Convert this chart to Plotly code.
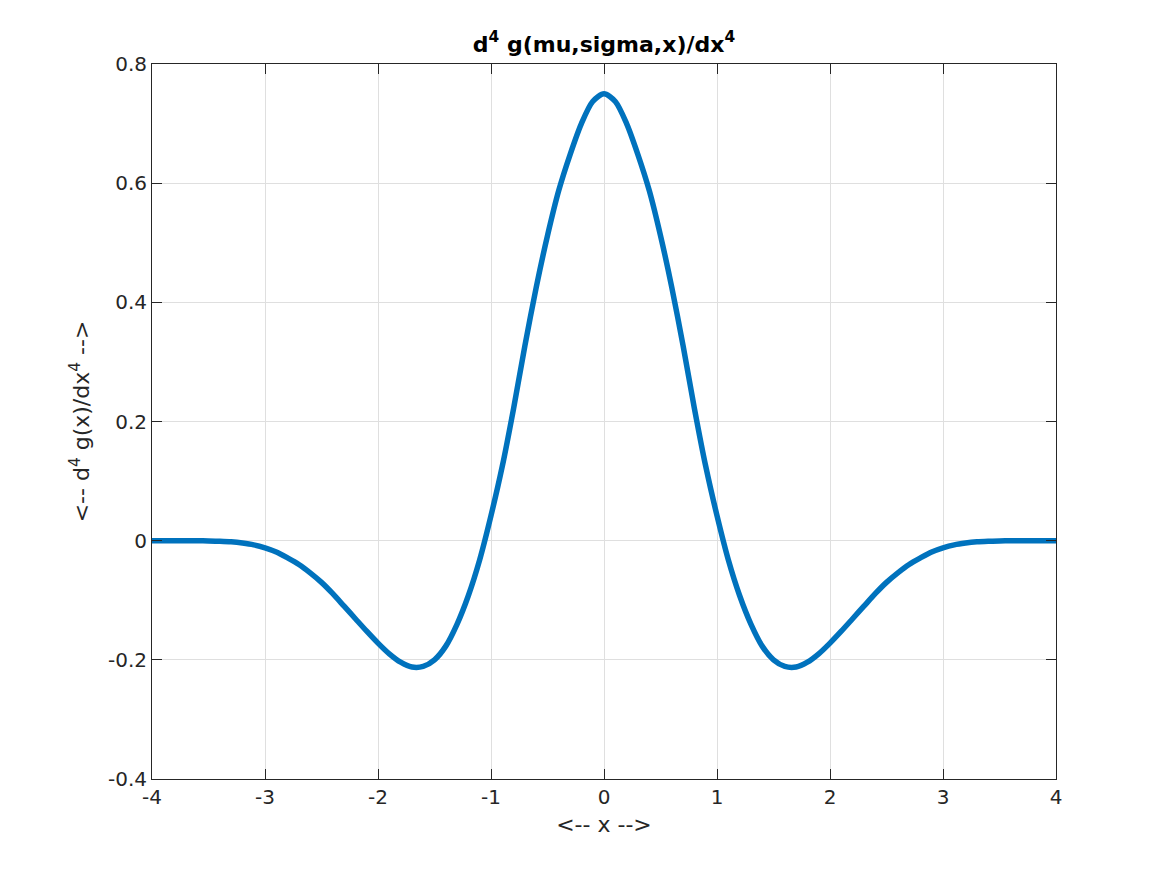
import plotly.graph_objects as go

# x positions (step 0.1) and values (symmetric curve)
x_right = [round(0.1 * i, 1) for i in range(41)]
y_right = [0.750, 0.737, 0.700, 0.648, 0.588, 0.512, 0.425, 0.327, 0.222, 0.125,
           0.042, -0.032, -0.092, -0.140, -0.177, -0.200, -0.211, -0.212, -0.204, -0.190,
           -0.172, -0.152, -0.131, -0.110, -0.089, -0.070, -0.054, -0.040, -0.029, -0.019,
           -0.012, -0.007, -0.004, -0.002, -0.001, -0.0004, 0.0, 0.0, 0.0, 0.0, 0.0]

x_vals = [-v for v in x_right[:0:-1]] + x_right
y_vals = y_right[:0:-1] + y_right

x_ticks = [-4, -3, -2, -1, 0, 1, 2, 3, 4]
x_ticklabels = ["-4", "-3", "-2", "-1", "0", "1", "2", "3", "4"]
y_ticks = [-0.4, -0.2, 0, 0.2, 0.4, 0.6, 0.8]
y_ticklabels = ["-0.4", "-0.2", "0", "0.2", "0.4", "0.6", "0.8"]

fig = go.Figure()
fig.add_trace(go.Scatter(x=x_vals, y=y_vals, mode="lines",
                         line=dict(color="#0072BD", width=5.5, shape="spline", smoothing=0.8),
                         showlegend=False))

tick_font = dict(family="DejaVu Sans", size=20, color="#262626")
label_font = dict(family="DejaVu Sans", size=22, color="#262626")
axis_common = dict(showline=True, linecolor="#262626", linewidth=1, mirror="ticks",
                   ticks="inside", ticklen=10, tickcolor="#262626",
                   showgrid=True, gridcolor="#dfdfdf", gridwidth=1,
                   zeroline=False, tickfont=tick_font)

fig.update_layout(
    width=1167, height=875,
    paper_bgcolor="white", plot_bgcolor="white",
    margin=dict(l=144, r=119, t=56, b=104),
    title=dict(text="<b>d<sup>4</sup> g(mu,sigma,x)/dx<sup>4</sup></b>",
               xref="paper", x=0.5, xanchor="center",
               y=1 - 36 / 875, yanchor="middle",
               font=dict(family="DejaVu Sans", size=22, color="black")),
    xaxis=dict(range=[-4, 4], tickvals=x_ticks, ticktext=x_ticklabels,
               title=dict(text="&lt;-- x --&gt;", font=label_font, standoff=8), **axis_common),
    yaxis=dict(range=[-0.4, 0.8], tickvals=y_ticks, ticktext=y_ticklabels,
               title=dict(text="&lt;-- d<sup>4</sup> g(x)/dx<sup>4</sup> --&gt;", font=label_font, standoff=12),
               **axis_common),
)

fig.write_html("out.html")
